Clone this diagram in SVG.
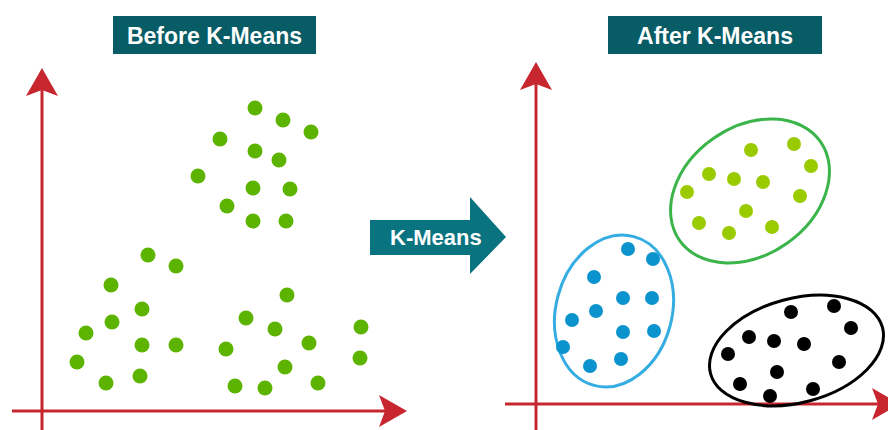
<svg xmlns="http://www.w3.org/2000/svg" width="888" height="430" viewBox="0 0 888 430">
  <style>
    .title-box { fill: #075c66; }
    .title-text { font-family: "Liberation Sans", Arial, sans-serif; font-weight: bold; font-size: 23px; fill: #ffffff; text-anchor: middle; }
    .axis { stroke: #c8262f; stroke-width: 3; fill: none; marker-end: url(#axisHead); }
    .dot-g { fill: #5db400; }
    .dot-y { fill: #9acb00; }
    .dot-b { fill: #0b93cd; }
    .dot-k { fill: #000000; }
    .ell { fill: none; stroke-width: 3; }
  </style>
  <defs>
    <marker id="axisHead" markerUnits="userSpaceOnUse" viewBox="0 0 28 32" markerWidth="28" markerHeight="32" refX="18" refY="16" orient="auto">
      <path d="M0,0 L28,16 L0,32 L6,16 Z" fill="#c8262f"/>
    </marker>
  </defs>

  <g id="title-before">
    <rect class="title-box" x="113" y="16" width="203" height="38"/>
    <text class="title-text" x="214.5" y="43.5">Before K-Means</text>
  </g>
  <g id="title-after">
    <rect class="title-box" x="608" y="16" width="214" height="38"/>
    <text class="title-text" x="715" y="43.5">After K-Means</text>
  </g>

  <g id="connectors">
    <line class="axis" x1="42" y1="430" x2="42" y2="78"/>
    <line class="axis" x1="12" y1="411" x2="397" y2="411"/>
    <line class="axis" x1="536" y1="430" x2="536" y2="72"/>
    <line class="axis" x1="505" y1="404" x2="890" y2="404"/>
  </g>

  <g id="kmeans-arrow">
    <path d="M370,220 L470,220 L470,197 L506,237 L470,274 L470,255 L370,255 Z" fill="#0a7380"/>
    <text x="390" y="245" font-family="'Liberation Sans', Arial, sans-serif" font-weight="bold" font-size="22" fill="#ffffff">K-Means</text>
  </g>

  <g id="points-before">
    <circle class="dot-g" cx="255" cy="108" r="7.5"/>
    <circle class="dot-g" cx="283" cy="120" r="7.5"/>
    <circle class="dot-g" cx="311" cy="132" r="7.5"/>
    <circle class="dot-g" cx="220" cy="139" r="7.5"/>
    <circle class="dot-g" cx="255" cy="151" r="7.5"/>
    <circle class="dot-g" cx="279" cy="160" r="7.5"/>
    <circle class="dot-g" cx="198" cy="176" r="7.5"/>
    <circle class="dot-g" cx="253" cy="188" r="7.5"/>
    <circle class="dot-g" cx="290" cy="189" r="7.5"/>
    <circle class="dot-g" cx="227" cy="206" r="7.5"/>
    <circle class="dot-g" cx="253" cy="221" r="7.5"/>
    <circle class="dot-g" cx="286" cy="221" r="7.5"/>
    <circle class="dot-g" cx="148" cy="255" r="7.5"/>
    <circle class="dot-g" cx="176" cy="266" r="7.5"/>
    <circle class="dot-g" cx="111" cy="285" r="7.5"/>
    <circle class="dot-g" cx="287" cy="295" r="7.5"/>
    <circle class="dot-g" cx="142" cy="309" r="7.5"/>
    <circle class="dot-g" cx="246" cy="318" r="7.5"/>
    <circle class="dot-g" cx="112" cy="322" r="7.5"/>
    <circle class="dot-g" cx="275" cy="329" r="7.5"/>
    <circle class="dot-g" cx="361" cy="327" r="7.5"/>
    <circle class="dot-g" cx="86" cy="333" r="7.5"/>
    <circle class="dot-g" cx="142" cy="345" r="7.5"/>
    <circle class="dot-g" cx="176" cy="345" r="7.5"/>
    <circle class="dot-g" cx="226" cy="349" r="7.5"/>
    <circle class="dot-g" cx="309" cy="343" r="7.5"/>
    <circle class="dot-g" cx="77" cy="362" r="7.5"/>
    <circle class="dot-g" cx="285" cy="367" r="7.5"/>
    <circle class="dot-g" cx="360" cy="358" r="7.5"/>
    <circle class="dot-g" cx="106" cy="383" r="7.5"/>
    <circle class="dot-g" cx="140" cy="376" r="7.5"/>
    <circle class="dot-g" cx="235" cy="386" r="7.5"/>
    <circle class="dot-g" cx="265" cy="388" r="7.5"/>
    <circle class="dot-g" cx="318" cy="383" r="7.5"/>
  </g>

  <g id="cluster-green">
    <ellipse class="ell" stroke="#3bb54a" cx="750" cy="191" rx="86" ry="64" transform="rotate(-35 750 191)"/>
    <circle class="dot-y" cx="751" cy="150" r="7"/>
    <circle class="dot-y" cx="794" cy="144" r="7"/>
    <circle class="dot-y" cx="811" cy="166" r="7"/>
    <circle class="dot-y" cx="709" cy="174" r="7"/>
    <circle class="dot-y" cx="734" cy="179" r="7"/>
    <circle class="dot-y" cx="763" cy="182" r="7"/>
    <circle class="dot-y" cx="687" cy="192" r="7"/>
    <circle class="dot-y" cx="800" cy="196" r="7"/>
    <circle class="dot-y" cx="746" cy="211" r="7"/>
    <circle class="dot-y" cx="699" cy="223" r="7"/>
    <circle class="dot-y" cx="729" cy="233" r="7"/>
    <circle class="dot-y" cx="772" cy="227" r="7"/>
  </g>

  <g id="cluster-blue">
    <ellipse class="ell" stroke="#36ade2" cx="614" cy="311" rx="58" ry="77" transform="rotate(15 614 311)"/>
    <circle class="dot-b" cx="628" cy="249" r="7"/>
    <circle class="dot-b" cx="653" cy="259" r="7"/>
    <circle class="dot-b" cx="594" cy="277" r="7"/>
    <circle class="dot-b" cx="623" cy="298" r="7"/>
    <circle class="dot-b" cx="652" cy="298" r="7"/>
    <circle class="dot-b" cx="596" cy="311" r="7"/>
    <circle class="dot-b" cx="572" cy="320" r="7"/>
    <circle class="dot-b" cx="623" cy="332" r="7"/>
    <circle class="dot-b" cx="654" cy="331" r="7"/>
    <circle class="dot-b" cx="563" cy="347" r="7"/>
    <circle class="dot-b" cx="590" cy="366" r="7"/>
    <circle class="dot-b" cx="621" cy="359" r="7"/>
  </g>

  <g id="cluster-black">
    <ellipse class="ell" stroke="#000000" cx="796.5" cy="350.5" rx="89" ry="52" transform="rotate(-15 796.5 350.5)"/>
    <circle class="dot-k" cx="791" cy="312" r="7"/>
    <circle class="dot-k" cx="834" cy="306" r="7"/>
    <circle class="dot-k" cx="851" cy="328" r="7"/>
    <circle class="dot-k" cx="749" cy="337" r="7"/>
    <circle class="dot-k" cx="774" cy="341" r="7"/>
    <circle class="dot-k" cx="804" cy="344" r="7"/>
    <circle class="dot-k" cx="728" cy="354" r="7"/>
    <circle class="dot-k" cx="839" cy="362" r="7"/>
    <circle class="dot-k" cx="777" cy="372" r="7"/>
    <circle class="dot-k" cx="740" cy="384" r="7"/>
    <circle class="dot-k" cx="770" cy="396" r="7"/>
    <circle class="dot-k" cx="813" cy="389" r="7"/>
  </g>
</svg>
